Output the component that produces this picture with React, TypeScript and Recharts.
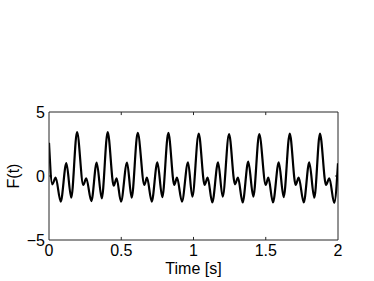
import React from 'react';
import { LineChart, Line, XAxis, YAxis, ReferenceLine } from 'recharts';

const timeValues = [
  0.0, 0.023, 0.046, 0.081, 0.12, 0.154, 0.194, 0.237, 0.258, 0.293, 0.33, 0.365,
  0.406, 0.448, 0.468, 0.498, 0.54, 0.572, 0.614, 0.66, 0.678, 0.711, 0.75, 0.784,
  0.826, 0.867, 0.886, 0.92, 0.962, 0.992, 1.036, 1.077, 1.098, 1.13, 1.17, 1.202,
  1.246, 1.287, 1.308, 1.34, 1.379, 1.414, 1.455, 1.5, 1.518, 1.55, 1.59, 1.624,
  1.666, 1.707, 1.728, 1.763, 1.801, 1.836, 1.875, 1.917, 1.94, 1.974, 2.0,
];

const forceValues = [
  2.6, -0.65, -0.13, -2.0, 1.0, -1.7, 3.43, -0.7, -0.18, -1.96, 1.05, -1.75,
  3.43, -0.76, -0.18, -2.0, 1.05, -1.7, 3.37, -0.7, -0.13, -2.0, 1.07, -1.65,
  3.37, -0.7, -0.13, -2.0, 1.07, -1.62, 3.32, -0.7, -0.13, -2.07, 1.07, -1.62,
  3.27, -0.65, -0.13, -2.07, 1.12, -1.62, 3.27, -0.7, -0.13, -2.07, 1.07, -1.65,
  3.32, -0.7, -0.13, -2.07, 1.07, -1.7, 3.32, -0.7, -0.18, -2.1, 1.0,
];

const xTicks = [0, 0.5, 1, 1.5, 2];
const yTicks = [-5, 0, 5];

const data = timeValues.map((t, i) => ({ t, f: forceValues[i] }));

const FONT = '"Liberation Sans", Arial, Helvetica, sans-serif';
const AX = '#262626';
const FS = 16;

const fmtY = (v: number) => (v < 0 ? `\u2212${Math.abs(v)}` : `${v}`);

export default function App() {
  const xInner = xTicks.slice(1, -1);
  const yInner = yTicks.slice(1, -1);
  return (
    <div style={{ position: 'absolute', left: 0, top: 0 }}>
      <LineChart
        width={374}
        height={281}
        data={data}
        margin={{ top: 112, right: 36, left: 0, bottom: 0 }}
      >
        <XAxis
          dataKey="t"
          type="number"
          domain={[0, 2]}
          ticks={xTicks}
          tickLine={false}
          tickSize={0}
          tickMargin={5}
          height={41}
          axisLine={{ stroke: AX, strokeWidth: 1 }}
          tick={{ fill: '#000', fontSize: FS, fontFamily: FONT }}
          interval={0}
          allowDataOverflow
          label={{
            value: 'Time [s]',
            position: 'insideBottom',
            offset: 7,
            style: { fill: '#000', fontSize: FS, fontFamily: FONT },
          }}
        />
        <YAxis
          type="number"
          domain={[-5, 5]}
          ticks={yTicks}
          tickLine={false}
          tickSize={0}
          tickMargin={4}
          width={49}
          tickFormatter={fmtY}
          axisLine={{ stroke: AX, strokeWidth: 1 }}
          tick={{ fill: '#000', fontSize: FS, fontFamily: FONT }}
          interval={0}
          allowDataOverflow
          label={{
            value: 'F(t)',
            content: (props: any) => {
              const vb = props.viewBox || { x: 0, y: 0, width: 49, height: 128 };
              const cx = vb.x + 13;
              const cy = vb.y + vb.height / 2;
              return (
                <text
                  x={cx}
                  y={cy}
                  transform={`rotate(-90 ${cx} ${cy})`}
                  textAnchor="middle"
                  dominantBaseline="central"
                  fill="#000"
                  fontSize={FS}
                  fontFamily={FONT}
                >
                  F(t)
                </text>
              );
            },
          }}
        />
        <ReferenceLine y={5} stroke={AX} strokeWidth={1} />
        <ReferenceLine x={2} stroke={AX} strokeWidth={1} />
        {xInner.map((x) => (
          <ReferenceLine
            key={`xb${x}`}
            segment={[{ x, y: -5 }, { x, y: -4.76 }]}
            stroke={AX}
          />
        ))}
        {xInner.map((x) => (
          <ReferenceLine
            key={`xt${x}`}
            segment={[{ x, y: 5 }, { x, y: 4.76 }]}
            stroke={AX}
          />
        ))}
        {yInner.map((y) => (
          <ReferenceLine
            key={`yl${y}`}
            segment={[{ x: 0, y }, { x: 0.021, y }]}
            stroke={AX}
          />
        ))}
        {yInner.map((y) => (
          <ReferenceLine
            key={`yr${y}`}
            segment={[{ x: 2, y }, { x: 1.979, y }]}
            stroke={AX}
          />
        ))}
        <Line
          type="monotone"
          dataKey="f"
          stroke="#000"
          strokeWidth={2.2}
          dot={false}
          isAnimationActive={false}
        />
      </LineChart>
    </div>
  );
}
